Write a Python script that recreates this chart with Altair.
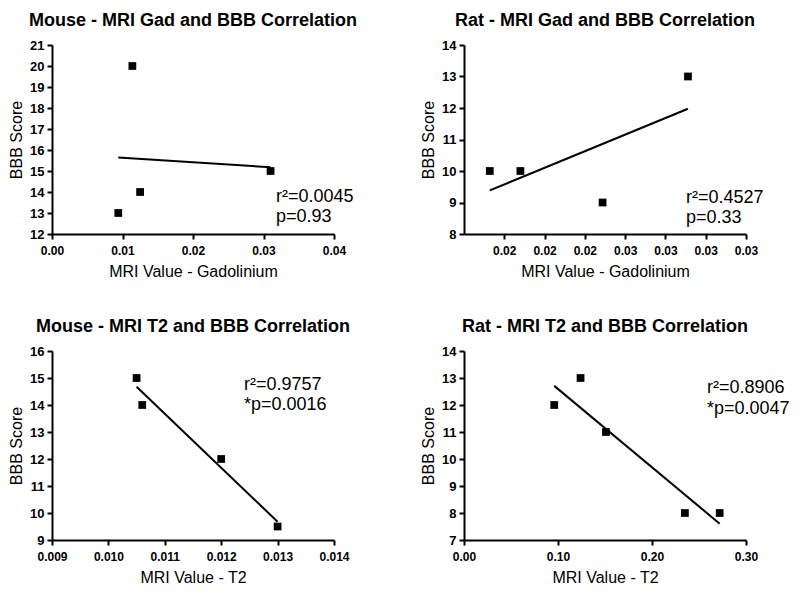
import altair as alt
import pandas as pd

# ---- data ----
mouse_gad_x = [0.0094, 0.0114, 0.0125, 0.0310]
mouse_gad_y = [13, 20, 14, 15]
rat_gad_x = [0.0166, 0.0185, 0.0236, 0.0289]
rat_gad_y = [10, 10, 9, 13]
mouse_t2_x = [0.0105, 0.0106, 0.0120, 0.0130]
mouse_t2_y = [15, 14, 12, 9.5]
rat_t2_x = [0.096, 0.124, 0.151, 0.235, 0.272]
rat_t2_y = [12, 13, 11, 8, 8]

mouse_gad_xticks = [0.0, 0.01, 0.02, 0.03, 0.04]
rat_gad_xticks = [0.0175, 0.02, 0.0225, 0.025, 0.0275, 0.03, 0.0325]
mouse_t2_xticks = [0.009, 0.010, 0.011, 0.012, 0.013, 0.014]
rat_t2_xticks = [0.0, 0.10, 0.20, 0.30]

mouse_gad_yticks = list(range(12, 22))
rat_gad_yticks = list(range(8, 15))
mouse_t2_yticks = list(range(9, 17))
rat_t2_yticks = list(range(7, 15))

titles = [
    "Mouse - MRI Gad and BBB Correlation",
    "Rat - MRI Gad and BBB Correlation",
    "Mouse - MRI T2 and BBB Correlation",
    "Rat - MRI T2 and BBB Correlation",
]
x_titles = ["MRI Value - Gadolinium", "MRI Value - Gadolinium", "MRI Value - T2", "MRI Value - T2"]
stats = [
    ["r\u00b2=0.0045", "p=0.93"],
    ["r\u00b2=0.4527", "p=0.33"],
    ["r\u00b2=0.9757", "*p=0.0016"],
    ["r\u00b2=0.8906", "*p=0.0047"],
]

FONT = "Liberation Sans"
W, H = 282, 189


def panel(xs, ys, title, xtitle, xdom, ydom, xticks, yticks, xfmt, stat, ax, ay1, ay2):
    df = pd.DataFrame({"x": xs, "y": ys})
    base = alt.Chart(df)
    xenc = alt.X("x:Q", title=xtitle,
                 scale=alt.Scale(domain=xdom, nice=False, zero=False),
                 axis=alt.Axis(values=xticks, format=xfmt, labelOverlap=False,
                               labelFontSize=12, labelPadding=6))
    yenc = alt.Y("y:Q", title="BBB Score",
                 scale=alt.Scale(domain=ydom, nice=False, zero=False),
                 axis=alt.Axis(values=yticks, format="d", labelOverlap=False,
                               labelFontSize=13, labelPadding=3))
    pts = base.mark_square(size=60, color="black", opacity=1, filled=True).encode(x=xenc, y=yenc)
    reg = base.transform_regression("x", "y").mark_line(color="black", strokeWidth=2).encode(
        x=xenc, y=yenc)
    t1 = alt.Chart(pd.DataFrame({"t": [stat[0]]})).mark_text(
        align="left", baseline="alphabetic", font=FONT, fontSize=18, color="black"
    ).encode(text="t:N", x=alt.value(ax), y=alt.value(ay1))
    t2 = alt.Chart(pd.DataFrame({"t": [stat[1]]})).mark_text(
        align="left", baseline="alphabetic", font=FONT, fontSize=18, color="black"
    ).encode(text="t:N", x=alt.value(ax), y=alt.value(ay2))
    return alt.layer(reg, pts, t1, t2).properties(
        width=W, height=H,
        title=alt.TitleParams(title, font=FONT, fontSize=18, fontWeight="bold",
                              anchor="middle", frame="group", color="black", offset=9),
    )


p1 = panel(mouse_gad_x, mouse_gad_y, titles[0], x_titles[0], [0, 0.04], [12, 21],
           mouse_gad_xticks, mouse_gad_yticks, ".2f", stats[0], 224, 157, 177)
p2 = panel(rat_gad_x, rat_gad_y, titles[1], x_titles[1], [0.015, 0.0325], [8, 14],
           rat_gad_xticks, rat_gad_yticks, ".2f", stats[1], 222, 158, 178)
p3 = panel(mouse_t2_x, mouse_t2_y, titles[2], x_titles[2], [0.009, 0.014], [9, 16],
           mouse_t2_xticks, mouse_t2_yticks, ".3f", stats[2], 192, 39, 59)
p4 = panel(rat_t2_x, rat_t2_y, titles[3], x_titles[3], [0.0, 0.30], [7, 14],
           rat_t2_xticks, rat_t2_yticks, ".2f", stats[3], 243, 42, 63)

chart = alt.concat(p1, p2, p3, p4, columns=2, bounds="flush",
                   spacing=alt.RowColnumber(row=117, column=130)).properties(
    padding={"top": 4, "left": 0, "right": 0, "bottom": 0}, background="white"
).configure_view(stroke=None).configure_axis(
    grid=False,
    domainColor="black", domainWidth=2,
    tickColor="black", tickWidth=2, tickSize=5,
    labelFont=FONT, labelFontWeight="bold", labelFontSize=12, labelColor="black",
    labelFlush=False, labelOverlap=False,
    titleFont=FONT, titleFontWeight="normal", titleFontSize=16, titleColor="black",
).configure_axisX(titlePadding=7).configure_axisY(titlePadding=5)

chart.save("out.html", embed_options={"renderer": "svg", "actions": False})
